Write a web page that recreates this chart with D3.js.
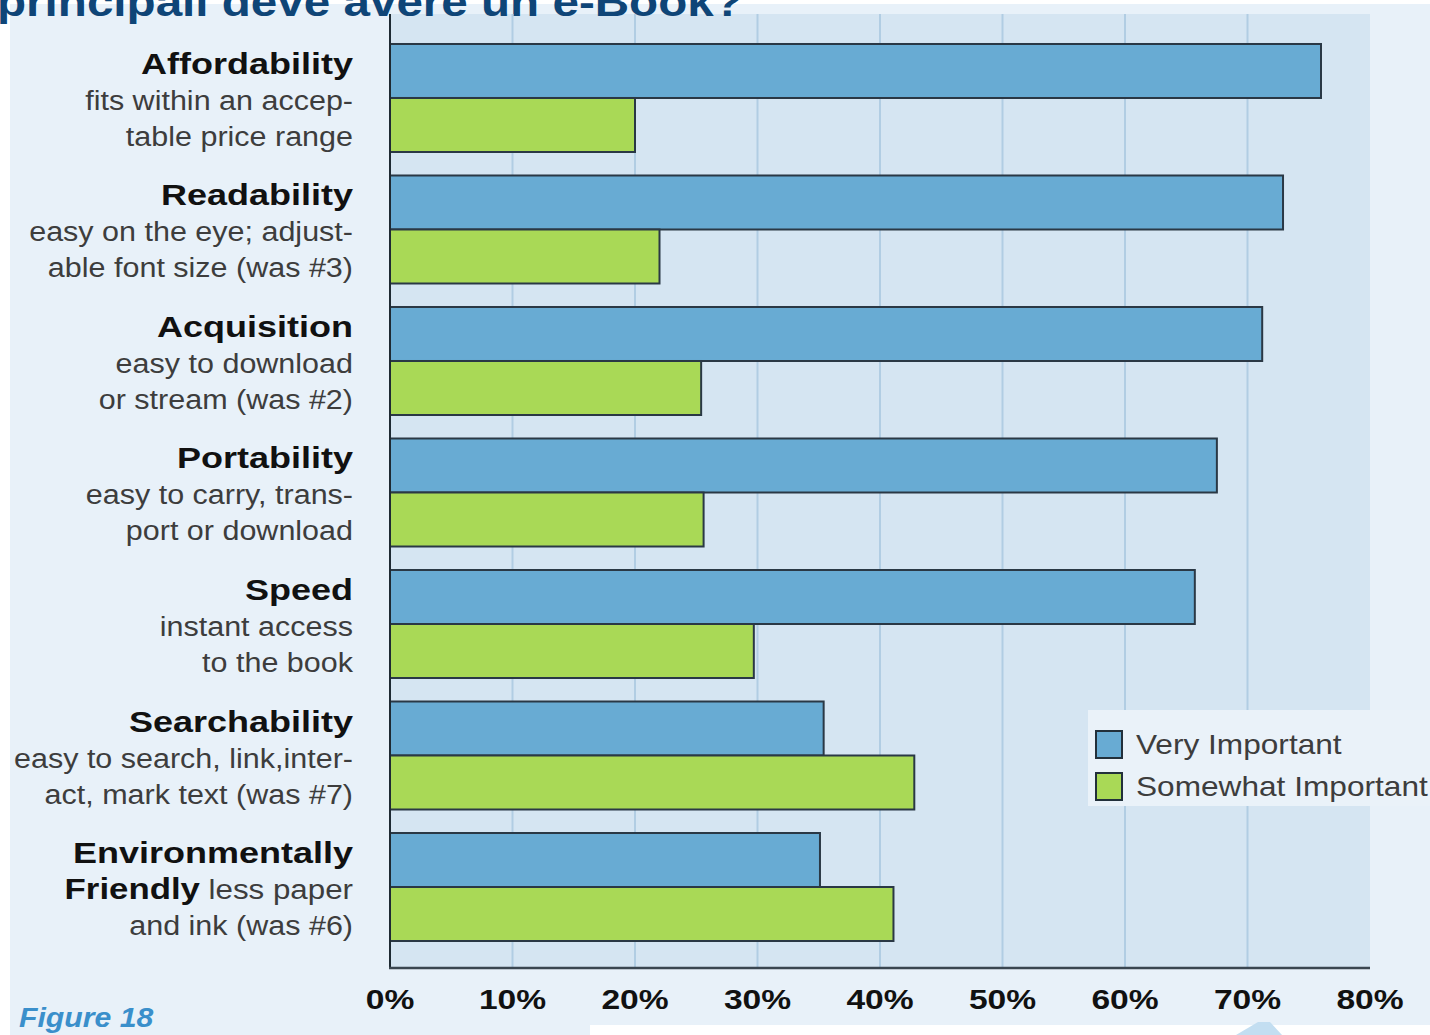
<!DOCTYPE html>
<html><head><meta charset="utf-8">
<script src="https://cdn.jsdelivr.net/npm/d3@7"></script>
<style>
html,body{margin:0;padding:0;background:#fff;}
svg{display:block;font-family:"Liberation Sans",Arial,Helvetica,sans-serif;}
</style></head>
<body>
<svg id="chart" width="1430" height="1035"></svg>
<script>
// ---- data ----
const categories = ["Affordability","Readability","Acquisition","Portability","Speed","Searchability","Environmentally Friendly"];
const veryImportant = [76, 72.9, 71.2, 67.5, 65.7, 35.4, 35.1];
const somewhatImportant = [20, 22, 25.4, 25.6, 29.7, 42.8, 41.1];
const seriesNames = ["Very Important","Somewhat Important"];
const tickValues = [0,10,20,30,40,50,60,70,80];
const tickLabels = ["0%","10%","20%","30%","40%","50%","60%","70%","80%"];
// label lines: each line is a list of [text, isBold]
const labelLines = [
  [[["Affordability",1]],[["fits within an accep-",0]],[["table price range",0]]],
  [[["Readability",1]],[["easy on the eye; adjust-",0]],[["able font size (was #3)",0]]],
  [[["Acquisition",1]],[["easy to download",0]],[["or stream (was #2)",0]]],
  [[["Portability",1]],[["easy to carry, trans-",0]],[["port or download",0]]],
  [[["Speed",1]],[["instant access",0]],[["to the book",0]]],
  [[["Searchability",1]],[["easy to search, link,inter-",0]],[["act, mark text (was #7)",0]]],
  [[["Environmentally",1]],[["Friendly",1],[" less paper",0]],[["and ink (was #6)",0]]]
];
const titleText = "principali deve avere un e-Book?";
const figureLabel = "Figure 18";

// ---- layout ----
const svg = d3.select("#chart");
const X0 = 390, X1 = 1370, Y0 = 14, Y1 = 968;
const SXB = 1.2, SXR = 1.13; // horizontal stretch of bold / regular typography

const x = d3.scaleLinear().domain([0,80]).range([X0,X1]);
const y = d3.scaleBand().domain(categories).range([32.25, 32.25 + 7*131.5]).paddingInner(0.1787).paddingOuter(0.0893);
const ySub = d3.scaleBand().domain(seriesNames).range([0, y.bandwidth()]);
const colors = {"Very Important":"#68abd3","Somewhat Important":"#a9d956"};

// backgrounds
svg.append("rect").attr("x",10).attr("y",4).attr("width",1420).attr("height",1031).attr("fill","#e8f1f9");
svg.append("rect").attr("x",590).attr("y",1025).attr("width",840).attr("height",10).attr("fill","#ffffff");
svg.append("path").attr("d","M1236,1035 L1258,1022 L1270,1022 L1282,1035 Z").attr("fill","#c3def1");
svg.append("rect").attr("x",X0).attr("y",Y0).attr("width",X1-X0).attr("height",Y1-Y0).attr("fill","#d5e5f2");

// title (cropped at top, as in the reference)
svg.append("text").attr("transform","translate(-3,16) scale(1.19,1)")
  .attr("font-size",40).attr("font-weight","bold").attr("fill","#0f4577").text(titleText);

// gridlines
svg.append("g").selectAll("line").data(tickValues.filter(v=>v>0 && v<80)).join("line")
  .attr("x1",d=>x(d)).attr("x2",d=>x(d)).attr("y1",Y0).attr("y2",Y1)
  .attr("stroke","#b1cde3").attr("stroke-width",2);

// bars
const rows = categories.map((c,i)=>({cat:c, vals:[
  {s:seriesNames[0], v:veryImportant[i]},
  {s:seriesNames[1], v:somewhatImportant[i]}]}));
const g = svg.append("g").selectAll("g").data(rows).join("g")
  .attr("transform",d=>`translate(0,${y(d.cat)})`);
g.selectAll("rect").data(d=>d.vals).join("rect")
  .attr("x",x(0)).attr("y",d=>ySub(d.s)).attr("width",d=>x(d.v)-x(0)).attr("height",ySub.bandwidth())
  .attr("fill",d=>colors[d.s]).attr("stroke","#2a3845").attr("stroke-width",2);

// axes lines
svg.append("line").attr("x1",X0).attr("x2",X0).attr("y1",Y0).attr("y2",Y1+1).attr("stroke","#1e2a33").attr("stroke-width",2);
svg.append("line").attr("x1",X0-1).attr("x2",X1).attr("y1",Y1).attr("y2",Y1).attr("stroke","#3a4650").attr("stroke-width",2.5);

// tick labels
svg.append("g").selectAll("text").data(tickValues).join("text")
  .attr("transform",d=>`translate(${x(d)},1009) scale(1.2,1)`)
  .attr("text-anchor","middle").attr("font-size",28).attr("font-weight","bold").attr("fill","#111")
  .text((d,i)=>tickLabels[i]);

// category labels
const lineOffsets = [30,66,102];
categories.forEach((c,i)=>{
  labelLines[i].forEach((segs,li)=>{
    const allBold = segs.every(s=>s[1]);
    const mixed = segs.length>1;
    const sx = allBold && !mixed ? SXB : (mixed ? 1.16 : SXR);
    const t = svg.append("text")
      .attr("transform",`translate(353,${y(c)+lineOffsets[li]}) scale(${sx},1)`)
      .attr("text-anchor","end");
    segs.forEach(([txt,b])=>{
      t.append("tspan").text(txt)
        .attr("font-weight",b?"bold":"normal")
        .attr("font-size",b?30:27)
        .attr("fill",b?"#111":"#3d3d3d")
        .style("white-space","pre");
    });
  });
});

// legend
svg.append("rect").attr("x",1088).attr("y",710).attr("width",342).attr("height",96).attr("fill","#eaf2f9");
const lg = svg.append("g").selectAll("g").data(seriesNames).join("g")
  .attr("transform",(d,i)=>`translate(1096,${731+i*42})`);
lg.append("rect").attr("width",26).attr("height",27).attr("fill",d=>colors[d]).attr("stroke","#22303b").attr("stroke-width",2);
lg.append("text").attr("transform","translate(40,23) scale(1.13,1)").attr("font-size",28).attr("fill","#3d3d3d").text(d=>d);

// figure label
svg.append("text").attr("transform","translate(19,1027) scale(1.12,1)")
  .attr("font-size",27).attr("font-weight","bold").attr("font-style","italic").attr("fill","#3a8fcb").text(figureLabel);
</script>
</body></html>
